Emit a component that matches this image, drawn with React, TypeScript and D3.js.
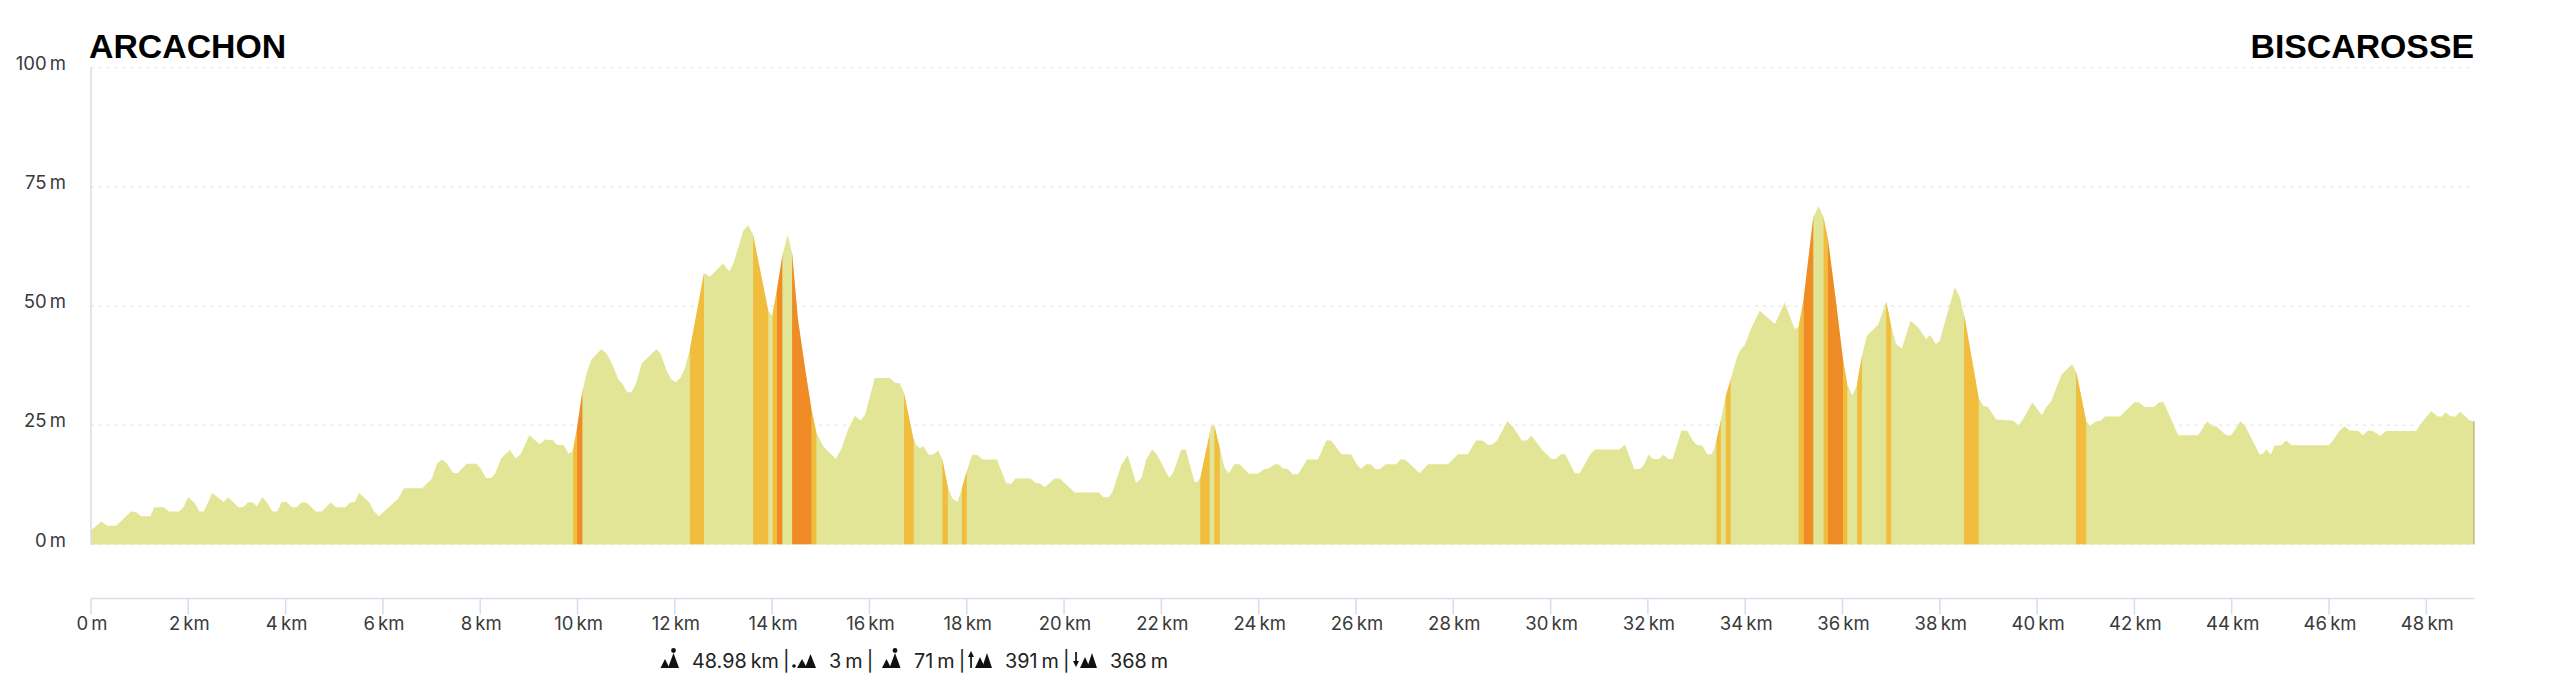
import React from "react";
import * as d3 from "d3";

const startName = "ARCACHON";
const endName = "BISCAROSSE";
const elevationTicks = [0, 25, 50, 75, 100];
const distanceTicks = d3.range(0, 49, 2);

// [km, metres] read from the profile
const profile: [number, number][] = [
  [0,2.9],[.21,4.8],[.33,3.9],[.52,3.9],[.82,6.9],[.92,6.8],[1.03,5.9],[1.22,5.9],[1.3,7.8],[1.5,7.8],[1.6,6.9],[1.81,6.9],[1.9,7.8],[2,9.9],[2.13,8.7],[2.23,6.9],[2.32,6.9],[2.49,10.8],[2.73,8.9],[2.82,9.9],
  [3.03,7.8],[3.13,7.8],[3.22,8.8],[3.33,8.8],[3.41,8],[3.52,9.9],[3.61,8.9],[3.73,6.9],[3.83,6.9],[3.92,8.9],[4.02,8.9],[4.13,7.8],[4.23,7.8],[4.32,8.8],[4.43,8.8],[4.62,6.9],[4.74,6.9],[4.93,8.8],[5.04,7.8],[5.23,7.8],
  [5.33,8.8],[5.42,8.9],[5.51,10.8],[5.71,8.9],[5.82,6.9],[5.92,5.9],[6.32,9.7],[6.43,11.8],[6.81,11.8],[7,13.7],[7.11,16.9],[7.21,17.8],[7.31,17],[7.44,15],[7.53,14.9],[7.72,16.9],[7.92,16.9],[8.01,15.9],[8.12,13.9],[8.23,13.9],
  [8.31,14.9],[8.43,18],[8.61,19.8],[8.73,18],[8.83,18.9],[9.01,22.9],[9.22,21],[9.33,22],[9.5,21.8],[9.57,20.9],[9.72,20.8],[9.81,19],[9.88,19.4],[9.91,19.9],[9.99,24.4],[10.1,32.1],[10.19,36],[10.29,38.8],[10.49,40.9],[10.6,40],
  [10.7,38.1],[10.84,34.6],[10.91,33.9],[11.02,31.9],[11.11,31.9],[11.21,33.9],[11.32,38],[11.45,39.2],[11.62,40.9],[11.71,40],[11.83,36.4],[11.93,34.6],[12.02,34],[12.12,35],[12.21,37],[12.31,40.9],[12.6,56.9],[12.72,56.1],[12.99,58.9],[13.12,57.3],
  [13.2,58.8],[13.41,65.8],[13.51,66.9],[13.61,64.8],[13.92,49],[14,47.9],[14.1,53.5],[14.21,60.6],[14.32,65],[14.41,61.1],[14.53,47.2],[14.7,35.3],[14.81,28.3],[14.91,23.4],[15.05,20.6],[15.31,17.9],[15.43,20.2],[15.56,24.1],[15.7,26.9],[15.82,26],
  [15.91,27.2],[16.11,34.9],[16.42,34.9],[16.52,33.9],[16.62,33.8],[16.71,31.8],[16.9,22.3],[16.96,20.9],[17.05,20.1],[17.1,20.7],[17.22,18.8],[17.31,18.8],[17.41,19.7],[17.5,17.8],[17.61,12.1],[17.7,9.7],[17.81,8.9],[17.89,11.4],[18,15.3],[18.11,18.8],
  [18.21,18.8],[18.33,17.8],[18.62,17.8],[18.81,12.8],[18.92,12.7],[19,13.8],[19.31,13.8],[19.42,12.8],[19.5,12.8],[19.6,12],[19.81,13.8],[19.91,13.8],[20.22,10.9],[20.72,10.9],[20.81,9.9],[20.92,9.9],[21,11.1],[21.18,16.7],[21.31,18.7],[21.48,12.8],
  [21.59,13.9],[21.69,17.8],[21.81,19.9],[21.91,18.8],[22.16,14],[22.24,14.9],[22.41,19.9],[22.5,19.9],[22.68,13.2],[22.73,13],[22.8,13.9],[22.99,23],[23.02,24.9],[23.09,24.9],[23.2,20.2],[23.3,16],[23.39,14.9],[23.5,16.8],[23.61,16.8],[23.8,14.8],
  [23.98,14.8],[24.12,15.8],[24.2,15.9],[24.33,16.8],[24.41,16.8],[24.5,15.9],[24.6,15.8],[24.7,14.7],[24.81,14.7],[25,17.8],[25.22,17.8],[25.39,21.8],[25.49,21.8],[25.7,18.9],[25.9,18.9],[26.01,16.9],[26.1,15.8],[26.21,16.8],[26.3,16.8],[26.4,15.8],
  [26.5,15.8],[26.61,16.8],[26.83,16.8],[26.91,17.8],[27.01,17.8],[27.31,14.9],[27.48,16.8],[27.89,16.8],[28.1,18.9],[28.3,18.9],[28.47,21.8],[28.6,21.8],[28.71,20.9],[28.8,20.9],[28.9,21.8],[29.11,25.8],[29.23,24.6],[29.41,21.8],[29.51,21.8],[29.61,22.8],
  [29.82,19.9],[30.02,17.9],[30.11,17.9],[30.21,18.9],[30.3,18.9],[30.5,14.9],[30.6,14.9],[30.81,18.8],[30.91,19.9],[31.41,19.9],[31.53,20.9],[31.72,15.8],[31.84,15.8],[31.93,16.8],[32.01,18.8],[32.11,17.9],[32.23,17.9],[32.32,18.8],[32.42,17.9],[32.51,17.9],
  [32.69,23.9],[32.81,23.8],[32.93,21.7],[33,20.9],[33.12,20.7],[33.22,18.9],[33.31,18.9],[33.37,20.2],[33.41,22],[33.49,25.5],[33.59,30.7],[33.7,34.6],[33.82,38.8],[33.89,40.6],[33.99,41.8],[34.13,45.5],[34.3,49],[34.61,46.2],[34.81,50.7],[35.02,45.1],
  [35.1,45.7],[35.2,51.4],[35.4,68.6],[35.51,70.9],[35.61,68.6],[35.7,64.1],[35.86,51.4],[36.01,38.8],[36.1,33.5],[36.2,31.2],[36.29,33.2],[36.4,39.5],[36.5,43.7],[36.66,45.3],[36.74,46.2],[36.9,50.9],[37,45.8],[37.1,42],[37.22,41.1],[37.4,46.9],
  [37.57,45.3],[37.72,43],[37.8,43.9],[37.92,42],[38,42.7],[38.1,46.5],[38.31,53.9],[38.41,51.8],[38.51,47.6],[38.8,30.7],[38.9,29],[38.99,28.8],[39.16,26.2],[39.5,26],[39.62,25],[39.71,26.2],[39.9,29.8],[40.1,27.1],[40.19,28.8],[40.29,30],
  [40.5,35.6],[40.72,37.8],[40.81,35.9],[41.01,25.8],[41.09,24.9],[41.22,25.9],[41.3,25.9],[41.4,26.8],[41.7,26.8],[42,29.8],[42.09,29.8],[42.21,28.8],[42.4,28.8],[42.51,29.8],[42.6,29.8],[42.9,22.9],[43.31,22.9],[43.5,25.8],[43.6,24.8],[43.68,24.8],
  [43.89,22.9],[43.99,22.9],[44.18,25.8],[44.28,24.7],[44.57,18.9],[44.63,18.9],[44.72,19.9],[44.8,18.8],[44.88,20.7],[45.02,20.8],[45.12,21.8],[45.23,20.8],[46,20.8],[46.08,21.8],[46.22,23.9],[46.32,24.8],[46.42,23.9],[46.6,23.8],[46.7,22.9],[46.8,23.9],
  [46.9,23.8],[47.05,22.8],[47.18,23.8],[47.79,23.8],[47.93,25.9],[48.1,27.9],[48.24,26.8],[48.32,26.8],[48.39,27.7],[48.51,26.8],[48.6,26.8],[48.7,27.8],[48.89,26],[48.98,25.8],
];

// Climb / descent stretches, [from km, to km]
const moderateStretches: [number, number][] = [
  [9.91,9.99],[12.31,12.6],[13.61,13.92],[14.01,14.1],[14.81,14.91],[16.71,16.91],[17.5,17.61],[17.9,18],[22.8,22.99],[23.09,23.2],
  [33.41,33.5],[33.6,33.7],[35.1,35.2],[35.61,35.7],[36.01,36.1],[36.3,36.4],[36.9,37],[38.5,38.8],[40.8,41.01],
];
const steepStretches: [number, number][] = [
  [9.99,10.1],[14.1,14.21],[14.41,14.81],[35.2,35.4],[35.7,36.01],
];

const statTexts = ["48.98 km |", "3 m |", "71 m |", "391 m |", "368 m"];
const statTextX = [692, 829, 914, 1005, 1110];

const SANS = "Inter, 'Noto Sans', sans-serif";

const x = d3.scaleLinear().domain([0, 48.98]).range([91, 2474]);
const y = d3.scaleLinear().domain([0, 100]).range([544.4, 67.5]);

const areaGen = d3.area<[number, number]>().x((d) => x(d[0])).y0(y(0)).y1((d) => y(d[1]));
const areaPath = areaGen(profile) as string;

const formatDistance = (k: number) => (k === 0 ? "0 m" : `${k} km`);

function Peaks({ ox, kind }: { ox: number; kind: "length" | "low" | "high" | "up" | "down" }) {
  const t = (dx: number, base: number, w: number, h: number) =>
    `M${ox + dx - w / 2},${base}L${ox + dx},${base - h}L${ox + dx + w / 2},${base}Z`;
  const base = 668;
  if (kind === "length" || kind === "high") {
    return (
      <g fill="#111">
        <path d={t(4.5, base, 9, 9)} />
        <path d={t(13, base, 11, 15)} />
        <circle cx={ox + 13} cy={650.5} r={2.4} />
      </g>
    );
  }
  if (kind === "low") {
    return (
      <g fill="#111">
        <circle cx={ox + 2} cy={666} r={1.8} />
        <path d={t(10, base, 10, 9)} />
        <path d={t(18.5, base, 11, 14)} />
      </g>
    );
  }
  const up = kind === "up";
  return (
    <g fill="#111">
      <path d={t(12, base, 10, 11)} />
      <path d={t(19, base, 10, 15)} />
      <path d={up ? `M${ox},657L${ox + 3},651L${ox + 6},657Z` : `M${ox},661L${ox + 3},667L${ox + 6},661Z`} />
      <rect x={ox + 2.2} y={up ? 656 : 652} width={1.7} height={up ? 12 : 10} />
    </g>
  );
}

export default function App() {
  return (
    <svg
      width={2560}
      height={683}
      viewBox="0 0 2560 683"
      style={{ position: "absolute", left: 0, top: 0, display: "block", background: "#fff" }}
    >
      <defs>
        <clipPath id="elevation-clip">
          <path d={areaPath} />
        </clipPath>
      </defs>

      {elevationTicks.map((t) => (
        <g key={t}>
          <line x1={x(0)} x2={x(48.98)} y1={y(t)} y2={y(t)} stroke="#e9e9ee" strokeWidth={1.4} strokeDasharray="3 5" />
          <text x={66} y={y(t) - 4.5} dy="0.36em" textAnchor="end" fontFamily={SANS} fontSize={18.5} fontWeight={400} fill="#3a3a3a" wordSpacing={-2}>
            {t} m
          </text>
        </g>
      ))}

      <path d={areaPath} fill="#e3e596" />
      <g clipPath="url(#elevation-clip)">
        {moderateStretches.map(([a, b], i) => (
          <rect key={`m${i}`} x={x(a)} width={x(b) - x(a)} y={y(100)} height={y(0) - y(100)} fill="#f0bd3c" />
        ))}
        {steepStretches.map(([a, b], i) => (
          <rect key={`s${i}`} x={x(a)} width={x(b) - x(a)} y={y(100)} height={y(0) - y(100)} fill="#ef8c25" />
        ))}
      </g>
      <line x1={x(48.98)} x2={x(48.98)} y1={y(25.8)} y2={y(0)} stroke="#a99f6c" strokeWidth={1} />

      <line x1={x(0)} x2={x(0)} y1={y(100)} y2={y(0)} stroke="#d5deea" strokeWidth={1.5} />
      <line x1={x(0)} x2={x(48.98)} y1={598.5} y2={598.5} stroke="#d5deea" strokeWidth={1.5} />
      {distanceTicks.map((k) => (
        <g key={k}>
          <line x1={x(k)} x2={x(k)} y1={598.5} y2={614.5} stroke="#d5deea" strokeWidth={1.5} />
          <text x={x(k) + 1} y={623.5} dy="0.36em" textAnchor="middle" fontFamily={SANS} fontSize={18.5} fontWeight={400} fill="#3a3a3a" wordSpacing={-2}>
            {formatDistance(k)}
          </text>
        </g>
      ))}

      <text x={89} y={58} fontFamily="'Liberation Sans', Arial, sans-serif" fontWeight={700} fontSize={33.8} fill="#000">
        {startName}
      </text>
      <text x={2474} y={58} textAnchor="end" fontFamily="'Liberation Sans', Arial, sans-serif" fontWeight={700} fontSize={33.8} fill="#000">
        {endName}
      </text>

      <Peaks ox={660.5} kind="length" />
      <Peaks ox={792} kind="low" />
      <Peaks ox={882} kind="high" />
      <Peaks ox={968} kind="up" />
      <Peaks ox={1073} kind="down" />
      {statTexts.map((s, i) => (
        <text key={i} x={statTextX[i]} y={660.5} dy="0.36em" fontFamily={SANS} fontSize={19.8} fontWeight={400} fill="#222" wordSpacing={-1.5}>
          {s}
        </text>
      ))}
    </svg>
  );
}
